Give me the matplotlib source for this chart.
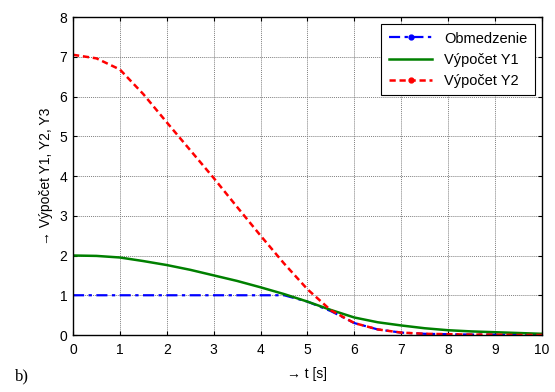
import matplotlib
matplotlib.use("Agg")
import matplotlib.pyplot as plt
from matplotlib.lines import Line2D

plt.rcParams['font.family'] = ['Liberation Sans', 'DejaVu Sans']

# time samples [s]
t = [0, 0.5, 1, 1.5, 2, 2.5, 3, 3.5, 4, 4.5, 5,
     5.5, 6, 6.5, 7, 7.5, 8, 8.5, 9, 9.5, 10]

# Vypocet Y1
y1 = [2.0, 1.99, 1.95, 1.86, 1.76, 1.64, 1.5, 1.36, 1.2, 1.03, 0.84,
      0.63, 0.44, 0.32, 0.24, 0.17, 0.12, 0.09, 0.07, 0.05, 0.03]
# Vypocet Y2
y2 = [7.05, 6.96, 6.68, 6.06, 5.35, 4.65, 3.95, 3.22, 2.5, 1.8, 1.15,
      0.62, 0.3, 0.14, 0.06, 0.03, 0.02, 0.01, 0.01, 0.0, 0.0]
# Obmedzenie
obm = [1.0, 1.0, 1.0, 1.0, 1.0, 1.0, 1.0, 1.0, 1.0, 1.0, 0.84,
       0.6, 0.3, 0.14, 0.06, 0.03, 0.02, 0.01, 0.01, 0.0, 0.0]

xticks = list(range(0, 11))
yticks = list(range(0, 9))

fig = plt.figure(figsize=(5.55, 3.92), dpi=100)
ax = fig.add_axes([0.1315, 0.1454, 0.845, 0.8112])

ax.plot(t, obm, color='blue', linewidth=1.6, dashes=(5, 2, 1.5, 2))
ax.plot(t, y1, color='#008000', linestyle='-', linewidth=1.8)
ax.plot(t, y2, color='red', linewidth=1.8, dashes=(2.5, 1.5))

ax.set_xlim(0, 10)
ax.set_ylim(0, 8)
ax.set_xticks(xticks)
ax.set_yticks(yticks)
ax.tick_params(direction='in', top=True, right=True, labelsize=10, length=3)
ax.tick_params(axis='x', pad=6)
ax.tick_params(axis='y', pad=4)
ax.grid(True, color='0.5', linewidth=0.7, dashes=(1, 1))
for s in ax.spines.values():
    s.set_color('black')
    s.set_linewidth(1.0)

ax.set_xlabel('\u2192 t [s]', fontsize=10, labelpad=7)
ax.set_ylabel('\u2192 V\u00fdpo\u010det Y1, Y2, Y3', fontsize=10, labelpad=5)

handles = [
    Line2D([], [], color='blue', marker='.', markersize=7, linewidth=1.6,
           dashes=(5, 2, 1.5, 2)),
    Line2D([], [], color='#008000', linestyle='-', linewidth=1.8),
    Line2D([], [], color='red', marker='.', markersize=7, linewidth=1.8,
           dashes=(2.5, 1.5)),
]
leg = ax.legend(handles, ['Obmedzenie', 'V\u00fdpo\u010det Y1', 'V\u00fdpo\u010det Y2'],
                loc='upper right', fontsize=10.5, fancybox=False, framealpha=1,
                edgecolor='black', borderaxespad=0.5, handlelength=3.0,
                labelspacing=0.5, borderpad=0.5)
leg.get_frame().set_linewidth(0.8)

fig.text(0.027, 0.03, 'b)', fontsize=12, family='Liberation Serif')

fig.savefig('out.png', dpi=100)
